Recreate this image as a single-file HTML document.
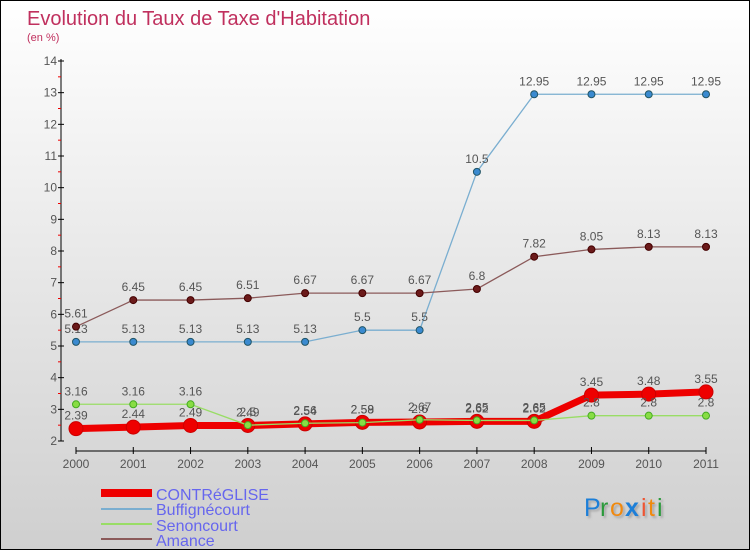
<!DOCTYPE html>
<html><head><meta charset="utf-8"><style>
body{margin:0}
#c{width:750px;height:550px;position:relative;box-sizing:border-box;border:1px solid #000;background:linear-gradient(#fff,#cfcfcf);font-family:"Liberation Sans",sans-serif;overflow:hidden}
text{font-family:"Liberation Sans",sans-serif}
</style></head><body>
<div id="c">
<svg id="s" width="750" height="550">
<defs><filter id="sh"><feDropShadow dx="2" dy="2" stdDeviation="1" flood-color="#888" flood-opacity="0.6"/></filter></defs>
<text x="26" y="24" font-size="20" fill="#c0305e">Evolution du Taux de Taxe d'Habitation</text>
<text x="26" y="40" font-size="11" fill="#c0305e">(en %)</text>
<g id="axes"></g><g id="series"></g>
<g>
<rect x="100" y="488" width="51" height="8" fill="#e00"/>
<text x="155" y="499" font-size="16" fill="#6666ee">CONTRéGLISE</text>
<rect x="100" y="507" width="51" height="2" fill="#7aaed0"/>
<text x="155" y="514" font-size="16" fill="#6666ee">Buffignécourt</text>
<rect x="100" y="522" width="51" height="2" fill="#99dd66"/>
<text x="155" y="530" font-size="16" fill="#6666ee">Senoncourt</text>
<rect x="100" y="537" width="51" height="2" fill="#8b5a5a"/>
<text x="155" y="545" font-size="16" fill="#6666ee">Amance</text>
</g>
<g font-size="25" filter="url(#sh)">
<text x="583" y="515" fill="#1a7fd8">P</text><text x="599" y="515" fill="#2a9a3a">r</text><text x="609" y="515" fill="#f08a10">o</text><text x="624" y="515" fill="#1a7fd8" font-weight="bold">x</text><text x="640" y="515" fill="#e53">i</text><text x="647" y="515" fill="#f08a10">t</text><text x="656" y="515" fill="#2a9a3a">i</text>
</g>
</svg></div>
<script>
const years=[2000,2001,2002,2003,2004,2005,2006,2007,2008,2009,2010,2011];
const contreglise=[2.39,2.44,2.49,2.49,2.54,2.59,2.6,2.62,2.62,3.45,3.48,3.55];
const buffignecourt=[5.13,5.13,5.13,5.13,5.13,5.5,5.5,10.5,12.95,12.95,12.95,12.95];
const senoncourt=[3.16,3.16,3.16,2.5,2.56,2.58,2.67,2.65,2.65,2.8,2.8,2.8];
const amance=[5.61,6.45,6.45,6.51,6.67,6.67,6.67,6.8,7.82,8.05,8.13,8.13];
const yTicks=[2,3,4,5,6,7,8,9,10,11,12,13,14];
const NS="http://www.w3.org/2000/svg";
const X=i=>75+i*(630/11), Y=v=>440-(v-2)*(380/12);
function mk(t,a,p){const e=document.createElementNS(NS,t);for(const k in a)e.setAttribute(k,a[k]);p.appendChild(e);return e;}
const ax=document.getElementById('axes'), se=document.getElementById('series');
let l=mk('line',{x1:60,y1:58,x2:60,y2:440,stroke:'#000'},ax);


l=mk('line',{x1:75,y1:450,x2:705,y2:450,stroke:'#000'},ax);


yTicks.forEach(v=>{
  mk('line',{x1:57,x2:63,y1:Y(v),y2:Y(v),stroke:'#000'},ax);
  if(v<14)mk('line',{x1:57,x2:60,y1:Y(v+0.5),y2:Y(v+0.5),stroke:'#e00'},ax);
  const t=mk('text',{x:56,y:Y(v)+4,'font-size':12,fill:'#555','text-anchor':'end'},ax);t.textContent=v;
  
  
});
years.forEach((y,i)=>{
  mk('line',{x1:X(i),x2:X(i),y1:446,y2:453,stroke:'#000'},ax);
  const t=mk('text',{x:X(i),y:467,'font-size':12,fill:'#555','text-anchor':'middle'},ax);t.textContent=y;
  
  
});
function series(d,name,col,w,r,dot,dotStroke){
  const g=mk('g',{},se);
  
  
  mk('polyline',{points:d.map((v,i)=>X(i)+','+Y(v)).join(' '),fill:'none',stroke:col,'stroke-width':w},g);
  d.forEach((v,i)=>{
    const c=mk('circle',{cx:X(i),cy:Y(v),r:r,fill:dot,stroke:dotStroke,'stroke-width':1},g);
    
    
    const t=mk('text',{x:X(i),y:Y(v)-9,'font-size':12,fill:'#555','text-anchor':'middle'},g);t.textContent=v;
    
    
  });
}
series(contreglise,'contreglise','#e00',7,7,'#e00','#c00');
series(buffignecourt,'buffignecourt','#7aaed0',1.3,3.5,'#3a8ad0','#256');
series(senoncourt,'senoncourt','#99dd66',1.3,3.5,'#88dd44','#4a2');
series(amance,'amance','#8b5a5a',1.3,3.5,'#6b1a1a','#400');
</script>
</body></html>
